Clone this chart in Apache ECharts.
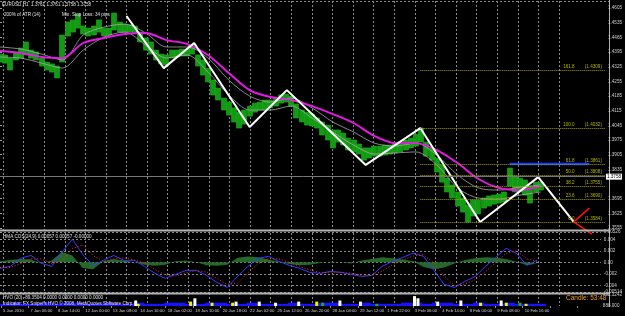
<!DOCTYPE html>
<html>
<head>
<meta charset="utf-8">
<style>
html, body { margin: 0; padding: 0; background: #000; }
#main { width: 625px; height: 316px; }
</style>
<script src="https://cdn.jsdelivr.net/npm/echarts@6/dist/echarts.min.js"></script>
</head>
<body>
<div id="main"></div>
<script>
var myChart = echarts.init(document.getElementById('main'));

// bars across the whole window (H1)
var xBars = 698;

// price band, one sample every 6 bars
var barStep = 6;
var hi = [1.4385,1.4381,1.4366,1.4395,1.4414,1.4443,1.4404,1.4395,1.4366,1.4347,
    1.4338,1.4328,1.4476,1.4538,1.4548,1.4576,1.4519,1.4509,1.4519,1.4548,
    1.4509,1.4509,1.4581,1.4538,1.4528,1.4524,1.4519,1.4490,1.4462,1.4443,
    1.4404,1.4385,1.4381,1.4404,1.4404,1.4409,1.4409,1.4428,1.4381,1.4357,
    1.4318,1.4261,1.4223,1.4175,1.4156,1.4128,1.4108,1.4118,1.4137,1.4151,
    1.4156,1.4166,1.4166,1.4175,1.4190,1.4194,1.4185,1.4147,1.4118,1.4108,
    1.4099,1.4080,1.4061,1.4046,1.4023,1.4023,1.4008,1.3984,1.3975,1.3956,
    1.3937,1.3937,1.3946,1.3946,1.3951,1.3951,1.3960,1.3965,1.3975,1.3984,
    1.4003,1.4032,1.3965,1.3937,1.3889,1.3856,1.3793,1.3760,1.3727,1.3698,
    1.3665,1.3688,1.3688,1.3698,1.3708,1.3712,1.3717,1.3727,1.3841,1.3803,
    1.3793,1.3784,1.3755,1.3774,1.3774];
var lo = [1.4347,1.4342,1.4309,1.4357,1.4366,1.4381,1.4366,1.4357,1.4328,1.4309,
    1.4299,1.4271,1.4347,1.4471,1.4490,1.4509,1.4481,1.4471,1.4476,1.4490,
    1.4471,1.4476,1.4500,1.4490,1.4490,1.4490,1.4486,1.4443,1.4404,1.4385,
    1.4357,1.4338,1.4333,1.4366,1.4371,1.4376,1.4376,1.4385,1.4328,1.4285,
    1.4252,1.4190,1.4166,1.4118,1.4094,1.4061,1.4032,1.4051,1.4089,1.4108,
    1.4118,1.4118,1.4128,1.4137,1.4151,1.4156,1.4137,1.4080,1.4061,1.4046,
    1.4042,1.4032,1.3999,1.3975,1.3937,1.3965,1.3951,1.3927,1.3918,1.3908,
    1.3879,1.3889,1.3898,1.3898,1.3903,1.3908,1.3913,1.3918,1.3927,1.3937,
    1.3946,1.3965,1.3898,1.3879,1.3822,1.3774,1.3727,1.3698,1.3660,1.3631,
    1.3583,1.3612,1.3622,1.3650,1.3660,1.3669,1.3674,1.3679,1.3755,1.3727,
    1.3727,1.3712,1.3674,1.3727,1.3736];
var lastPrice = 1.3758;

// moving averages, one sample every 24 bars
var maStep = 24;
var maSlow = [1.4400,1.4390,1.4371,1.4366,1.4438,1.4462,1.4481,1.4486,1.4452,1.4433,
    1.4381,1.4295,1.4213,1.4180,1.4166,1.4137,1.4099,1.4056,1.3994,1.3960,
    1.3960,1.3927,1.3865,1.3789,1.3746,1.3736,1.3755];
var bandUp = [1.4419,1.4409,1.4385,1.4357,1.4476,1.4514,1.4528,1.4486,1.4419,1.4419,
    1.4366,1.4261,1.4185,1.4156,1.4175,1.4128,1.4061,1.4013,1.3960,1.3946,
    1.3960,1.3903,1.3808,1.3746,1.3736,1.3750,1.3760];
var bandLo = [1.4371,1.4366,1.4342,1.4318,1.4404,1.4466,1.4490,1.4428,1.4366,1.4381,
    1.4299,1.4190,1.4118,1.4118,1.4137,1.4080,1.4013,1.3951,1.3908,1.3913,
    1.3918,1.3856,1.3746,1.3698,1.3693,1.3712,1.3727];

// zigzag swings and projection
var zzBar = [146, 189, 224, 288, 331, 422, 485, 554, 621, 662];
var zzPrice = [1.4567, 1.4318, 1.4438, 1.4037, 1.4213, 1.3856, 1.4032, 1.3584, 1.3798, 1.3584];
var projBar = [680, 662, 683];
var projPrice = [1.3650, 1.3584, 1.3526];
var blueBar = [588, 680];
var blueLevel = 1.3861;

// fibo from the last swing
var fibStart = 485;
var fibNames = ['0.0', '23.6', '38.2', '50.0', '61.8', '100.0', '161.8'];
var fibVals = [1.3584, 1.3690, 1.3755, 1.3808, 1.3861, 1.4032, 1.4309];

// price scale labels
var priceMin = 1.3555, priceMax = 1.4605, priceStep = 0.007;

// time labels, one every 32 bars
var timeStep = 32;
var timeLabels = ['5 Jan 2010', '7 Jan 06:00', '8 Jan 14:00', '12 Jan 00:00', '13 Jan 08:00',
    '14 Jan 16:00', '18 Jan 02:00', '19 Jan 10:00', '20 Jan 18:00', '22 Jan 02:00',
    '25 Jan 12:00', '26 Jan 20:00', '28 Jan 04:00', '29 Jan 12:00', '1 Feb 22:00',
    '3 Feb 06:00', '4 Feb 14:00', '8 Feb 00:00', '9 Feb 08:00', '10 Feb 16:00'];

// HMA COS panel, one sample every 12 bars
var oscStep = 12;
var oscHist = [0.0002,0.0004,0.0006,0.0005,-0.0002,0.0003,0.0018,0.0012,-0.0010,-0.0012,
    0.0002,0.0006,0.0003,0.0000,-0.0004,-0.0006,-0.0004,0.0002,0.0003,0.0000,
    -0.0005,-0.0006,-0.0004,0.0008,0.0010,0.0009,0.0005,0.0001,-0.0003,-0.0005,
    -0.0004,-0.0001,0.0001,0.0000,-0.0002,0.0003,0.0006,0.0009,0.0007,0.0005,
    0.0002,-0.0008,-0.0012,-0.0009,-0.0002,0.0004,0.0007,0.0009,0.0008,0.0006,
    0.0001,-0.0005,-0.0002];
var oscMain = [-0.00104,-0.0007,0.0007,0.0012,-0.00017,-0.0007,0.00174,0.0040,0.00139,-0.00052,
    0.00035,0.0012,0.00035,0.00035,-0.0007,-0.00191,-0.00278,-0.00209,-0.00139,-0.00139,
    -0.00226,-0.00348,-0.00435,-0.00244,-0.0007,0.0007,0.00104,0.00017,-0.00052,-0.00104,
    -0.00174,-0.00191,-0.00157,-0.00174,-0.00209,-0.00244,-0.00226,-0.0007,0.00017,0.00087,
    0.00157,0.00104,-0.00139,-0.00383,-0.00435,-0.00331,-0.00244,-0.0007,0.00087,0.00244,
    0.00157,-0.00052,0.00035];
var oscSignal = [-0.0009,-0.0009,-0.0002,0.0006,0.0006,-0.0002,0.0002,0.0024,0.0030,0.0012,
    0.0002,0.0006,0.0008,0.0004,-0.0001,-0.0012,-0.0022,-0.0024,-0.0018,-0.0014,
    -0.0017,-0.0028,-0.0038,-0.0036,-0.0018,-0.0002,0.0006,0.0006,0.0000,-0.0007,
    -0.0013,-0.0018,-0.0017,-0.0017,-0.0019,-0.0022,-0.0023,-0.0015,-0.0004,0.0004,
    0.0011,0.0013,-0.0001,-0.0024,-0.0040,-0.0038,-0.0030,-0.0016,0.0000,0.0016,
    0.0020,0.0006,0.0002];

// HVO panel (0..10 scale)
var volBlue = [2,3,2,2,3,2,3,3,2,2, 3,2,2,3,2,2,3,3,2,2, 3,3,2,2,3,2,2,2,3,2,
    2,3,3,2,2,3,2,2,2,3, 3,2,3,3,2,2,3,2,2,3, 2,2,2];
var volWhite = [[157,5],[226,7],[274,4],[301,4],[320,3],[347,4],[395,5],[419,4],[482,9],[486,7],[509,4],[536,5],[583,5]];
var volYellow = [[160,2],[221,4],[246,3],[270,3],[368,4],[559,3],[589,3],[612,2]];
var volGreen = [[375,3],[438,2],[605,3]];

var FONT = 'Liberation Sans';
var txt = '#d0d0d0';

function withStep(arr, step) {
    return arr.map(function (v, i) { return [i * step, v]; });
}
function zipXY(xs, ys) {
    return xs.map(function (x, i) { return [x, ys[i]]; });
}

// each sample drawn as one bar from low to high
var candles = hi.map(function (h, i) {
    return [i * barStep, lo[i], h, lo[i], h];
});

var fibLines = fibVals.map(function (v, i) {
    return [{coord: [fibStart, v], name: fibNames[i]}, {coord: [xBars, v]}];
});

function plainLine(name, data, color, width, extra) {
    var s = {
        name: name, type: 'line', xAxisIndex: 0, yAxisIndex: 0,
        data: data, symbol: 'none', silent: true,
        lineStyle: {color: color, width: width}
    };
    for (var k in extra) s[k] = extra[k];
    return s;
}

function textEl(x, y, str, color, size) {
    return {
        type: 'text', left: x, top: y, silent: true, z: 100,
        style: {text: str, fill: color, font: size + 'px "' + FONT + '"'}
    };
}

option = {
    backgroundColor: '#000',
    animation: false,
    grid: [
        {left: 0, right: 16, top: 8, height: 220},     // price
        {left: 0, right: 16, top: 232, height: 60},    // HMA COS
        {left: 0, right: 16, top: 295, height: 11},    // HVO
        {left: 3, right: 66, top: 1, height: 305}      // vertical dashes
    ],
    xAxis: [
        {gridIndex: 0, type: 'value', min: 0, max: xBars, show: false},
        {gridIndex: 1, type: 'value', min: 0, max: xBars, show: false},
        {
            gridIndex: 2, type: 'value', min: 0, max: xBars, interval: timeStep,
            axisLine: {show: false},
            axisTick: {show: true, length: 2, lineStyle: {color: '#909090'}},
            splitLine: {show: false},
            axisLabel: {
                color: txt, fontSize: 4.2, fontFamily: FONT, align: 'left', margin: 3,
                padding: [0, 0, 0, 2], showMaxLabel: false,
                formatter: function (v) {
                    return timeLabels[Math.round(v / timeStep)] || '';
                }
            }
        },
        {
            gridIndex: 3, type: 'value', min: 0, max: 27, interval: 1,
            axisLine: {show: false}, axisTick: {show: false}, axisLabel: {show: false},
            splitLine: {show: true, lineStyle: {color: '#8a8a8a', width: 1, type: [2, 2]}}
        }
    ],
    yAxis: [
        {
            gridIndex: 0, type: 'value', position: 'right',
            min: priceMin, max: priceMax, interval: priceStep,
            axisLine: {show: false},
            axisTick: {show: true, length: 2, lineStyle: {color: '#a0a0a0'}},
            splitLine: {show: false},
            axisLabel: {
                color: txt, fontSize: 4.6, fontFamily: FONT, margin: 3,
                formatter: function (v) {
                    // the bid box covers this one
                    if (Math.abs(v - lastPrice) < 0.001) return '';
                    return v.toFixed(4);
                }
            }
        },
        {
            gridIndex: 1, type: 'value', position: 'right',
            min: -0.00514, max: 0.00526,
            axisLine: {show: false},
            axisTick: {show: true, length: 2, lineStyle: {color: '#a0a0a0'}},
            splitLine: {show: true, lineStyle: {color: '#8a8a8a', width: 1, type: [2, 2]}},
            axisLabel: {
                color: txt, fontSize: 4.6, fontFamily: FONT, margin: 3,
                formatter: function (v) {
                    if (Math.abs(v) < 1e-9) return '0.00';
                    return String(parseFloat(v.toFixed(5)));
                }
            }
        },
        {
            gridIndex: 2, type: 'value', position: 'right', min: 0, max: 10, interval: 10,
            axisLine: {show: false}, axisTick: {show: false}, splitLine: {show: false},
            axisLabel: {
                color: txt, fontSize: 4.6, fontFamily: FONT, margin: 3,
                formatter: function (v) { return v > 5 ? '492.3242' : '888.000'; }
            }
        },
        {gridIndex: 3, type: 'value', min: 0, max: 1, show: false}
    ],
    series: [
        {
            name: 'EURUSD', type: 'candlestick', xAxisIndex: 0, yAxisIndex: 0,
            data: candles, encode: {x: 0, y: [1, 2, 3, 4]},
            barWidth: 5.4, silent: true,
            itemStyle: {color: '#139a13', color0: '#139a13', borderColor: '#1cb01c', borderColor0: '#1cb01c', borderWidth: 0.6},
            markLine: {
                silent: true, symbol: 'none', animation: false,
                lineStyle: {color: '#777', width: 1, type: 'solid'},
                label: {
                    show: true, position: 'end', distance: 1,
                    formatter: lastPrice.toFixed(4),
                    color: '#000', backgroundColor: '#fff', padding: [1, 1, 0, 1],
                    fontSize: 4.6, fontFamily: FONT
                },
                data: [{yAxis: lastPrice}]
            }
        },
        plainLine('band up', withStep(bandUp, maStep), '#a8a8a8', 0.8, {smooth: 0.3}),
        plainLine('band lo', withStep(bandLo, maStep), '#a8a8a8', 0.8, {smooth: 0.3}),
        plainLine('MA', withStep(maSlow, maStep), '#e619e6', 1.9, {smooth: 0.3}),
        plainLine('ZigZag', zipXY(zzBar, zzPrice), '#ffffff', 2, {
            clip: false,
            markLine: {
                silent: true, symbol: 'none', animation: false,
                lineStyle: {color: '#a3a300', width: 1, type: 'dotted'},
                label: {
                    show: true, position: 'insideEndTop', distance: [3, 1],
                    color: '#b5b500', fontSize: 4.6, fontFamily: FONT,
                    formatter: function (p) {
                        return fibNames[p.dataIndex] + '        (' + fibVals[p.dataIndex].toFixed(4) + ')';
                    }
                },
                data: fibLines
            }
        }),
        plainLine('projection', zipXY(projBar, projPrice), '#ff1010', 1.5, {clip: false}),
        plainLine('level', zipXY(blueBar, [blueLevel, blueLevel]), '#1f3cff', 2.5, {z: 3}),

        // HMA COS
        {
            name: 'hist', type: 'line', xAxisIndex: 1, yAxisIndex: 1, silent: true,
            data: withStep(oscHist, oscStep), symbol: 'none',
            lineStyle: {width: 0}, areaStyle: {color: '#25692a', opacity: 1}
        },
        {
            name: 'main', type: 'line', xAxisIndex: 1, yAxisIndex: 1, silent: true,
            data: withStep(oscMain, oscStep), symbol: 'none',
            lineStyle: {color: '#3a3aff', width: 1}
        },
        {
            name: 'signal', type: 'line', xAxisIndex: 1, yAxisIndex: 1, silent: true,
            data: withStep(oscSignal, oscStep), symbol: 'none',
            lineStyle: {color: '#ff2a2a', width: 1, type: [1, 2]}
        },

        // HVO
        {
            name: 'vol', type: 'bar', xAxisIndex: 2, yAxisIndex: 2, silent: true,
            data: withStep(volBlue, oscStep), barWidth: 11,
            itemStyle: {color: '#1414ff'}
        },
        {
            name: 'vol white', type: 'bar', xAxisIndex: 2, yAxisIndex: 2, silent: true,
            data: volWhite, barWidth: 3, barGap: '-100%', itemStyle: {color: '#ffffff'}
        },
        {
            name: 'vol yellow', type: 'bar', xAxisIndex: 2, yAxisIndex: 2, silent: true,
            data: volYellow, barWidth: 3, barGap: '-100%', itemStyle: {color: '#f0f000'}
        },
        {
            name: 'vol green', type: 'bar', xAxisIndex: 2, yAxisIndex: 2, silent: true,
            data: volGreen, barWidth: 3, barGap: '-100%', itemStyle: {color: '#22aa22'}
        }
    ],
    graphic: [
        // frame
        {type: 'line', silent: true, shape: {x1: 0, y1: 1.5, x2: 609, y2: 1.5}, style: {stroke: '#8a8a8a', lineWidth: 1, lineDash: [2, 2]}},
        {type: 'line', silent: true, shape: {x1: 609.5, y1: 0, x2: 609.5, y2: 307}, style: {stroke: '#b0b0b0', lineWidth: 1}},
        {type: 'line', silent: true, z: 50, shape: {x1: 0, y1: 230.5, x2: 609, y2: 230.5}, style: {stroke: '#b4b4b4', lineWidth: 2}},
        {type: 'line', silent: true, z: 50, shape: {x1: 0, y1: 293.5, x2: 609, y2: 293.5}, style: {stroke: '#b4b4b4', lineWidth: 2}},
        // captions
        textEl(2, 2, 'EURUSD,H1  1.3761 1.3761 1.3758 1.3758', '#e0e0e0', 4.6),
        textEl(4, 12, '200% of ATR (14)', '#e0e0e0', 4.6),
        textEl(62, 12, 'Min. Stop Loss: 34 pips', '#e0e0e0', 4.6),
        textEl(3, 234, 'HMA COS(24,9) 0.00057 0.00057 -0.00000', '#e0e0e0', 4.6),
        textEl(3, 295, 'HVO (20) -89.3504 0.0000 0.0000 0.0000 0.0000', '#e0e0e0', 4.6),
        textEl(3, 301, "Indicator: FX Sniper's HVO \u00a9 2008, MetaQuotes Software Corp.", '#e0e0e0', 4.6),
        textEl(566, 295, 'Candle: 53:48', '#f0a020', 6.5)
    ]
};

myChart.setOption(option);
</script>
</body>
</html>
